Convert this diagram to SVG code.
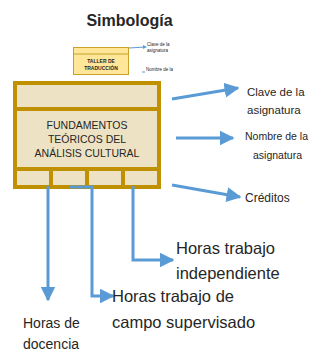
<svg xmlns="http://www.w3.org/2000/svg" width="328" height="360" viewBox="0 0 328 360">
<style>
.t{font-family:"Liberation Sans",Arial,sans-serif;fill:#262626}
.c{stroke:#5B9BD5;stroke-width:3;fill:none}
.cell{fill:#EDE3C4}
</style>
<defs>
<marker id="ah" viewBox="0 0 10 10" refX="9" refY="5" markerWidth="5" markerHeight="5" orient="auto" markerUnits="strokeWidth">
<path d="M0,0 L10,5 L0,10 Z" fill="#5B9BD5"/>
</marker>
</defs>
<rect width="328" height="360" fill="#fff"/>
<text x="129.5" y="26" text-anchor="middle" class="t" font-size="16" font-weight="bold" fill="#000">Simbología</text>
<g id="thumbnail">
<rect x="73.5" y="47.5" width="55" height="27" fill="#FFE699" stroke="#C9A227" stroke-width="1"/>
<line x1="73.5" y1="54" x2="128.5" y2="54" stroke="#C9A227" stroke-width="1"/>
<text x="101" y="63" text-anchor="middle" class="t" font-size="5" font-weight="bold">TALLER DE</text>
<text x="101" y="69.5" text-anchor="middle" class="t" font-size="5" font-weight="bold">TRADUCCIÓN</text>
<line x1="129" y1="48" x2="145" y2="47" stroke="#5B9BD5" stroke-width="1"/>
<path d="M147,47 L143,45 L143,49 Z" fill="#5B9BD5"/>
<text x="147" y="46" class="t" font-size="4.5">Clave de la</text>
<text x="147" y="52" class="t" font-size="4.5">asignatura</text>
<line x1="142" y1="72" x2="145" y2="72" stroke="#5B9BD5" stroke-width="1"/>
<text x="146" y="71" class="t" font-size="4.5">Nombre de la</text>
</g>
<g id="card">
<rect x="13" y="81" width="148" height="108" fill="#BF9000"/>
<rect x="17" y="85" width="140" height="22" class="cell"/>
<rect x="17" y="111" width="140" height="56" class="cell"/>
<rect x="17" y="171" width="32" height="14" class="cell"/>
<rect x="53" y="171" width="32" height="14" class="cell"/>
<rect x="89" y="171" width="32" height="14" class="cell"/>
<rect x="125" y="171" width="32" height="14" class="cell"/>
<text x="87" y="129" text-anchor="middle" class="t" font-size="10.5">FUNDAMENTOS</text>
<text x="87" y="142.5" text-anchor="middle" class="t" font-size="10.5">TEÓRICOS DEL</text>
<text x="87" y="157" text-anchor="middle" class="t" font-size="10.5">ANÁLISIS CULTURAL</text>
</g>
<g id="connectors">
<line class="c" x1="172" y1="99" x2="238" y2="88" marker-end="url(#ah)"/>
<line class="c" x1="176" y1="138" x2="233" y2="138" marker-end="url(#ah)"/>
<line class="c" x1="172" y1="185" x2="240" y2="197" marker-end="url(#ah)"/>
<polyline class="c" points="48,186 48,300" marker-end="url(#ah)"/>
<polyline class="c" points="70,187 92,187 92,296 113,296" marker-end="url(#ah)"/>
<polyline class="c" points="133,186 133,260 173,260" marker-end="url(#ah)"/>
</g>
<g id="label-clave">
<text x="247" y="96" class="t" font-size="11.5">Clave de la</text>
<text x="247" y="114" class="t" font-size="11.5">asignatura</text>
</g>
<g id="label-nombre">
<text x="245" y="140" class="t" font-size="10.5">Nombre de la</text>
<text x="253" y="159" class="t" font-size="10.5">asignatura</text>
</g>
<g id="label-creditos">
<text x="245" y="202" class="t" font-size="12">Créditos</text>
</g>
<g id="label-independiente">
<text x="176" y="254" class="t" font-size="16.5">Horas trabajo</text>
<text x="176" y="279" class="t" font-size="16.5">independiente</text>
</g>
<g id="label-campo">
<text x="112" y="302" class="t" font-size="16.5">Horas trabajo de</text>
<text x="112" y="328" class="t" font-size="16.5">campo supervisado</text>
</g>
<g id="label-docencia">
<text x="23" y="328" class="t" font-size="14">Horas de</text>
<text x="23" y="349" class="t" font-size="14">docencia</text>
</g>
</svg>
